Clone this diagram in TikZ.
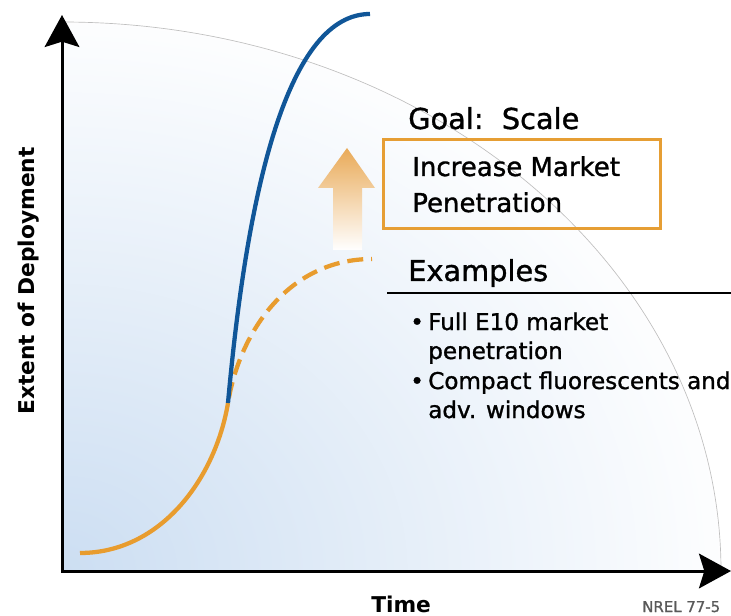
\documentclass[tikz,border=0pt]{standalone}
\usepackage{fontspec}
\setmainfont{DejaVu Sans}[UprightFeatures={FakeBold=1.2}]
\usetikzlibrary{arrows.meta}
\definecolor{curveblue}{RGB}{16,86,152}
\definecolor{curveorange}{RGB}{232,156,46}
\definecolor{arroworange}{RGB}{233,170,88}
\definecolor{frameorange}{RGB}{230,158,52}
\definecolor{skyblue}{RGB}{204,222,242}

\begin{document}
\begin{tikzpicture}[x=0.75pt, y=-0.75pt,
    axisline/.style={line width=2.25pt, {Stealth[length=24pt,width=26pt,inset=4pt]}-{Stealth[length=24pt,width=26pt,inset=4pt]}},
    rim/.style={gray!50, line width=0.5pt},
    growth/.style={line width=3.2pt},
    goalframe/.style={draw=frameorange, line width=2.25pt},
    heading/.style={inner sep=0pt, anchor=base west, font=\fontsize{21.6}{26}\selectfont},
    boxtext/.style={inner sep=0pt, anchor=base west, font=\fontsize{19.5}{24}\selectfont},
    item/.style={inner sep=0pt, anchor=base west, font=\fontsize{17.3}{21}\selectfont},
    axistitle/.style={inner sep=0pt, font=\bfseries\fontsize{16.3}{20}\selectfont}]
    \useasboundingbox (0,0) rectangle (731,616);

    \coordinate (origin) at (62,571);
    \coordinate (ytip) at (62,15);
    \coordinate (xtip) at (731,571);
    \coordinate (rimtop) at (62,22);
    \coordinate (start) at (80,553);
    \coordinate (knee) at (228,403);
    \coordinate (top) at (370,14);
    \coordinate (plateau) at (372,259);

    \begin{scope}
        \clip (origin) -- (rimtop) arc[start angle=-90, end angle=0, x radius=659, y radius=549] -- cycle;
        \shade[inner color=skyblue, outer color=white] (origin) ellipse [x radius=690, y radius=575];
    \end{scope}
    \draw[rim] (rimtop) arc[start angle=-90, end angle=0, x radius=659, y radius=549];

    \shade[top color=arroworange, middle color=arroworange!65, bottom color=white]
        (333,250) -- (333,188) -- (318,188) -- (347,148) -- (375,188) -- (362,188) -- (362,250) -- cycle;

    \draw[growth, curveorange] (start) .. controls (160,553) and (215,480) .. (knee);
    \draw[growth, curveorange, dash pattern=on 12pt off 6pt, dash phase=-4pt] (knee) .. controls (240,330) and (290,259) .. (plateau);
    \draw[growth, curveblue] (knee) .. controls (248,180) and (290,14) .. (top);

    \draw[axisline] (ytip) -- (origin) -- (xtip);

    \draw[goalframe] (383,140) rectangle (660,229);
    \node (goal) [heading] at (408,129) {Goal:\ \ Scale};
    \node (increase) [boxtext] at (412,176) {Increase Market};
    \node (penetration) [boxtext] at (412,212) {Penetration};

    \node (examples) [heading] at (408,281) {Examples};
    \draw[line width=1.5pt] (387,293) -- (731,293);
    \node (dot1) [item] at (410,330) {•};
    \node (e10) [item] at (428,330) {Full E10 market};
    \node (e10b) [item] at (428,359) {penetration};
    \node (dot2) [item] at (410,389) {•};
    \node (cfl) [item] at (428,389) {Compact fluorescents and};
    \node (cflb) [item] at (428,418) {adv. windows};

    \node (ylabel) [axistitle, rotate=90, anchor=base] at (34,281) {Extent of Deployment};
    \node (xlabel) [axistitle, anchor=base west] at (371,612) {Time};
    \node (ref) [inner sep=0pt, anchor=base west, text=black!65, font=\fontsize{11.2}{13}\selectfont] at (642,612) {NREL 77-5};
\end{tikzpicture}
\end{document}
